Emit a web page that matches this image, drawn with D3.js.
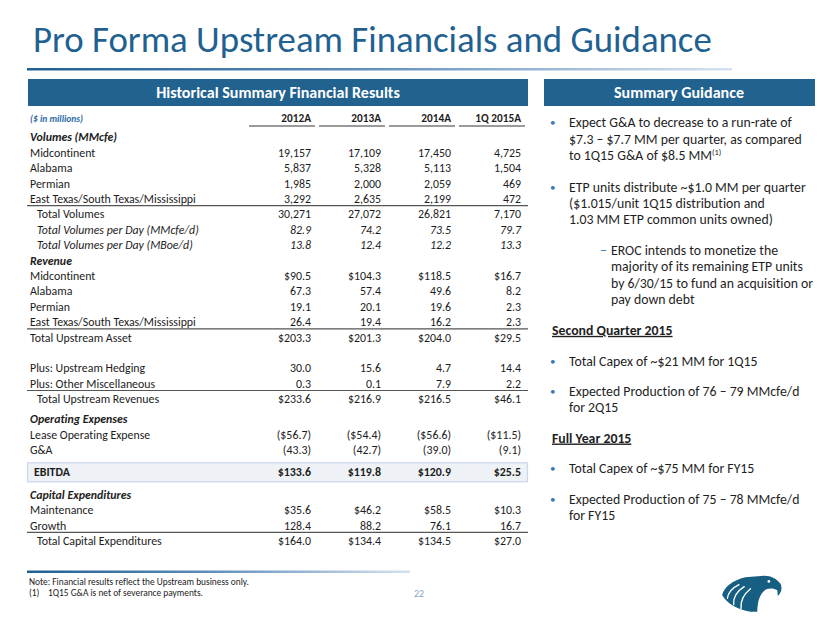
<!DOCTYPE html>
<html>
<head>
<meta charset="utf-8">
<script src="https://cdn.jsdelivr.net/npm/d3@7"></script>
<style>
  html, body { margin: 0; padding: 0; background: #fff; }
  svg { display: block; font-family: Carlito, Lato, "Open Sans", sans-serif; font-variant-ligatures: none; white-space: pre; }
</style>
</head>
<body>
<svg id="chart" width="830" height="623"></svg>
<script>
// ---------------- DATA ----------------
const years = ["2012A", "2013A", "2014A", "1Q 2015A"];
const rowLabels = [
  "Volumes (MMcfe)", "Midcontinent", "Alabama", "Permian", "East Texas/South Texas/Mississippi",
  "Total Volumes", "Total Volumes per Day (MMcfe/d)", "Total Volumes per Day (MBoe/d)",
  "Revenue", "Midcontinent", "Alabama", "Permian", "East Texas/South Texas/Mississippi",
  "Total Upstream Asset", "", "Plus: Upstream Hedging", "Plus:  Other Miscellaneous",
  "Total Upstream Revenues", "Operating Expenses", "Lease Operating Expense", "G&A",
  "EBITDA", "Capital Expenditures", "Maintenance", "Growth", "Total Capital Expenditures"
];
const values2012 = [null, 19157, 5837, 1985, 3292, 30271, 82.9, 13.8, null, 90.5, 67.3, 19.1, 26.4, 203.3, null, 30.0, 0.3, 233.6, null, -56.7, -43.3, 133.6, null, 35.6, 128.4, 164.0];
const values2013 = [null, 17109, 5328, 2000, 2635, 27072, 74.2, 12.4, null, 104.3, 57.4, 20.1, 19.4, 201.3, null, 15.6, 0.1, 216.9, null, -54.4, -42.7, 119.8, null, 46.2, 88.2, 134.4];
const values2014 = [null, 17450, 5113, 2059, 2199, 26821, 73.5, 12.2, null, 118.5, 49.6, 19.6, 16.2, 204.0, null, 4.7, 7.9, 216.5, null, -56.6, -39.0, 120.9, null, 58.5, 76.1, 134.5];
const values1Q15 = [null, 4725, 1504, 469, 472, 7170, 79.7, 13.3, null, 16.7, 8.2, 2.3, 2.3, 29.5, null, 14.4, 2.2, 46.1, null, -11.5, -9.1, 25.5, null, 10.3, 16.7, 27.0];
const seriesValues = [values2012, values2013, values2014, values1Q15];

const titleText = "Pro Forma Upstream Financials and Guidance";
const leftHeader = "Historical Summary Financial Results";
const rightHeader = "Summary Guidance";
const unitsNote = "($ in millions)";
const footNotes = ["Note:  Financial results reflect the Upstream business only.", "(1)"];
const footNote2 = "1Q15 G&A is net of severance payments.";
const pageNumber = "22";

// ---------------- STYLE / LAYOUT ----------------
const blue = "#1f6190";
const textCol = "#1c1c1c";
const svg = d3.select("#chart");

function fit(sel, target) {
  const fs = parseFloat(sel.attr("font-size"));
  const len = sel.node().getComputedTextLength();
  const nf = fs * target / len;
  sel.attr("font-size", nf);
  return nf;
}

const defs = svg.append("defs");
const grad = defs.append("linearGradient").attr("id", "fade").attr("x1", "0%").attr("x2", "100%");
grad.append("stop").attr("offset", "0%").attr("stop-color", "#1f5f8f");
grad.append("stop").attr("offset", "45%").attr("stop-color", "#5a8ab8");
grad.append("stop").attr("offset", "100%").attr("stop-color", "#d6e2ef");

// Title
const title = svg.append("text").attr("x", 33).attr("y", 52)
  .attr("font-size", 36).attr("fill", blue).text(titleText);
fit(title, 679);
svg.append("rect").attr("x", 27).attr("y", 68).attr("width", 705).attr("height", 2.5).attr("fill", "url(#fade)");

// Header bars
svg.append("rect").attr("x", 28).attr("y", 79).attr("width", 500).attr("height", 27).attr("fill", "#22628f");
svg.append("rect").attr("x", 544).attr("y", 79).attr("width", 271).attr("height", 27).attr("fill", "#22628f");
const h1 = svg.append("text").attr("x", 278).attr("y", 98).attr("text-anchor", "middle")
  .attr("font-size", 15).attr("font-weight", "bold").attr("fill", "#fff").text(leftHeader);
const hfs = fit(h1, 244);
svg.append("text").attr("x", 679).attr("y", 98).attr("text-anchor", "middle")
  .attr("font-size", hfs).attr("font-weight", "bold").attr("fill", "#fff").text(rightHeader);

// ---------------- TABLE ----------------
const x = d3.scalePoint().domain(years).range([311, 521]);
const extraGap = {18: 4.5, 21: 7.1, 22: 7.0};
const rowY = [];
let acc = 0;
rowLabels.forEach((d, i) => { acc += (extraGap[i] || 0); rowY.push(137.3 + i * 15.4 + acc); });

const sectionRows = new Set([0, 8, 18, 22]);
const italicRows = new Set([6, 7]);
const indentRows = new Set([5, 6, 7, 17, 25]);
const countRows = new Set([1, 2, 3, 4, 5]);
const dollarRows = new Set([9, 13, 17, 19, 21, 23, 25]);
const boldRows = new Set([21]);
const lineAfter = [4, 12, 16, 24];

// measure a font size for table text
const probe = svg.append("text").attr("font-size", 11).text("East Texas/South Texas/Mississippi");
const tfs = fit(probe, 166);
probe.remove();

// units + column headers
svg.append("text").attr("x", 30).attr("y", 119).attr("dy", "0.35em").attr("font-size", tfs * 0.8)
  .attr("font-style", "italic").attr("font-weight", "bold").attr("fill", "#2e6ca6").text(unitsNote);
svg.append("g").selectAll("text").data(years).join("text")
  .attr("x", d => x(d)).attr("y", 118).attr("dy", "0.35em").attr("text-anchor", "end")
  .attr("font-size", tfs * 0.95).attr("font-weight", "bold").attr("fill", textCol).text(d => d);
svg.append("g").selectAll("line").data(years).join("line")
  .attr("x1", d => x(d) - 62).attr("x2", d => x(d) + 4).attr("y1", 126).attr("y2", 126)
  .attr("stroke", "#9a9a9a").attr("stroke-width", 2);

// EBITDA highlight box
svg.append("rect").attr("x", 27.5).attr("y", rowY[21] - 9.5).attr("width", 500).attr("height", 19)
  .attr("fill", "#eef1f5").attr("stroke", "#c9d8ea").attr("stroke-width", 1.2);

// row labels
svg.append("g").selectAll("text").data(rowLabels).join("text")
  .attr("x", (d, i) => i === 21 ? 34 : (indentRows.has(i) ? 37 : 30))
  .attr("y", (d, i) => rowY[i]).attr("dy", "0.35em")
  .attr("font-size", tfs).attr("fill", textCol)
  .attr("font-weight", (d, i) => (sectionRows.has(i) || boldRows.has(i)) ? "bold" : null)
  .attr("font-style", (d, i) => (sectionRows.has(i) || italicRows.has(i)) ? "italic" : null)
  .text(d => d);

function fmt(v, i) {
  if (v == null) return "";
  if (countRows.has(i)) return d3.format(",")(v);
  const s = (dollarRows.has(i) ? "$" : "") + d3.format(".1f")(Math.abs(v));
  return v < 0 ? "(" + s + ")" : s;
}

// values
years.forEach((yr, c) => {
  svg.append("g").selectAll("text").data(seriesValues[c]).join("text")
    .attr("x", x(yr)).attr("y", (d, i) => rowY[i]).attr("dy", "0.35em")
    .attr("text-anchor", "end").attr("font-size", tfs).attr("fill", textCol)
    .attr("font-weight", (d, i) => boldRows.has(i) ? "bold" : null)
    .attr("font-style", (d, i) => italicRows.has(i) ? "italic" : null)
    .text((d, i) => fmt(d, i));
});

// separator lines
svg.append("g").selectAll("line").data(lineAfter).join("line")
  .attr("x1", 27).attr("x2", 528).attr("y1", d => rowY[d] + 6.8).attr("y2", d => rowY[d] + 6.8)
  .attr("stroke", "#555").attr("stroke-width", 1.2);

// ---------------- GUIDANCE ----------------
const g = svg.append("g").attr("fill", "#1e1e1e");
const probe2 = g.append("text").attr("font-size", 14).text("Expect G&A to decrease to a run-rate of");
const gfs = fit(probe2, 223);
probe2.remove();

const bulletBlocks = [
  {bx: 550, tx: 569, mark: "•", lines: ["Expect G&A to decrease to a run-rate of", "$7.3 – $7.7 MM per quarter, as compared", "to 1Q15 G&A of $8.5 MM"], y0: 122.3, sup: 2},
  {bx: 550, tx: 569, mark: "•", lines: ["ETP units distribute ~$1.0 MM per quarter", "($1.015/unit 1Q15 distribution and", "1.03 MM ETP common units owned)"], y0: 186.7},
  {bx: 600, tx: 611, mark: "–", lines: ["EROC intends to monetize the", "majority of its remaining ETP units", "by 6/30/15 to fund an acquisition or", "pay down debt"], y0: 250},
  {bx: 550, tx: 569, mark: "•", lines: ["Total Capex of ~$21 MM for 1Q15"], y0: 360.7},
  {bx: 550, tx: 569, mark: "•", lines: ["Expected Production of 76 – 79 MMcfe/d", "for 2Q15"], y0: 391},
  {bx: 550, tx: 569, mark: "•", lines: ["Total Capex of ~$75 MM for FY15"], y0: 467.7},
  {bx: 550, tx: 569, mark: "•", lines: ["Expected Production of 75 – 78 MMcfe/d", "for FY15"], y0: 499}
];
const lh = 16.4;
bulletBlocks.forEach(b => {
  g.append("text").attr("x", b.bx).attr("y", b.y0).attr("dy", "0.35em")
    .attr("font-size", b.mark === "•" ? gfs * 0.8 : gfs).attr("fill", "#3a78b5").text(b.mark);
  b.lines.forEach((l, k) => {
    const t = g.append("text").attr("x", b.tx).attr("y", b.y0 + k * lh).attr("dy", "0.35em")
      .attr("font-size", gfs).text(l);
    if (b.sup === k) {
      t.append("tspan").attr("font-size", gfs * 0.6).attr("dy", -5).text("(1)");
    }
  });
});
[["Second Quarter 2015", 330], ["Full Year 2015", 437.7]].forEach(([s, yy]) => {
  g.append("text").attr("x", 552).attr("y", yy).attr("dy", "0.35em").attr("font-size", gfs)
    .attr("font-weight", "bold").attr("text-decoration", "underline").text(s);
});

// ---------------- FOOTER ----------------
svg.append("rect").attr("x", 27).attr("y", 570.5).attr("width", 383).attr("height", 2.5).attr("fill", "url(#fade)");
const fn = svg.append("text").attr("x", 29).attr("y", 582).attr("dy", "0.35em").attr("font-size", 8)
  .attr("fill", "#222").text(footNotes[0]);
const ffs = fit(fn, 220);
svg.append("text").attr("x", 29).attr("y", 592.5).attr("dy", "0.35em").attr("font-size", ffs).attr("fill", "#222").text(footNotes[1]);
svg.append("text").attr("x", 48).attr("y", 592.5).attr("dy", "0.35em").attr("font-size", ffs).attr("fill", "#222").text(footNote2);
svg.append("text").attr("x", 419).attr("y", 593).attr("dy", "0.35em").attr("text-anchor", "middle")
  .attr("font-size", 10).attr("fill", "#8aa3bf").text(pageNumber);

// Eagle logo
const logo = svg.append("g").attr("transform", "translate(719,573) scale(1.05)");
logo.append("path").attr("fill", "#175f82")
  .attr("d", "M30 37 C18 35 7 29 3 21 C5 13 13 7 25 4 L43 2.5 C50 2.5 55 5.5 58.5 10 C60.5 14 59.5 18.5 56 22 L55.5 16.5 C52.5 14.5 48.5 14.2 45 15.5 C40 18.5 36.5 25 36.5 37 Z");
logo.append("g").attr("fill", "none").attr("stroke", "#fff").attr("stroke-width", 1.3).attr("stroke-linecap", "round")
  .selectAll("path").data([
    "M8 24 Q9 16 19 11",
    "M14 30 Q13 20 24 13",
    "M21 34 Q20 23 30 15"
  ]).join("path").attr("d", d => d);
logo.append("circle").attr("cx", 47.5).attr("cy", 8).attr("r", 1.3).attr("fill", "#fff");
</script>
</body>
</html>
